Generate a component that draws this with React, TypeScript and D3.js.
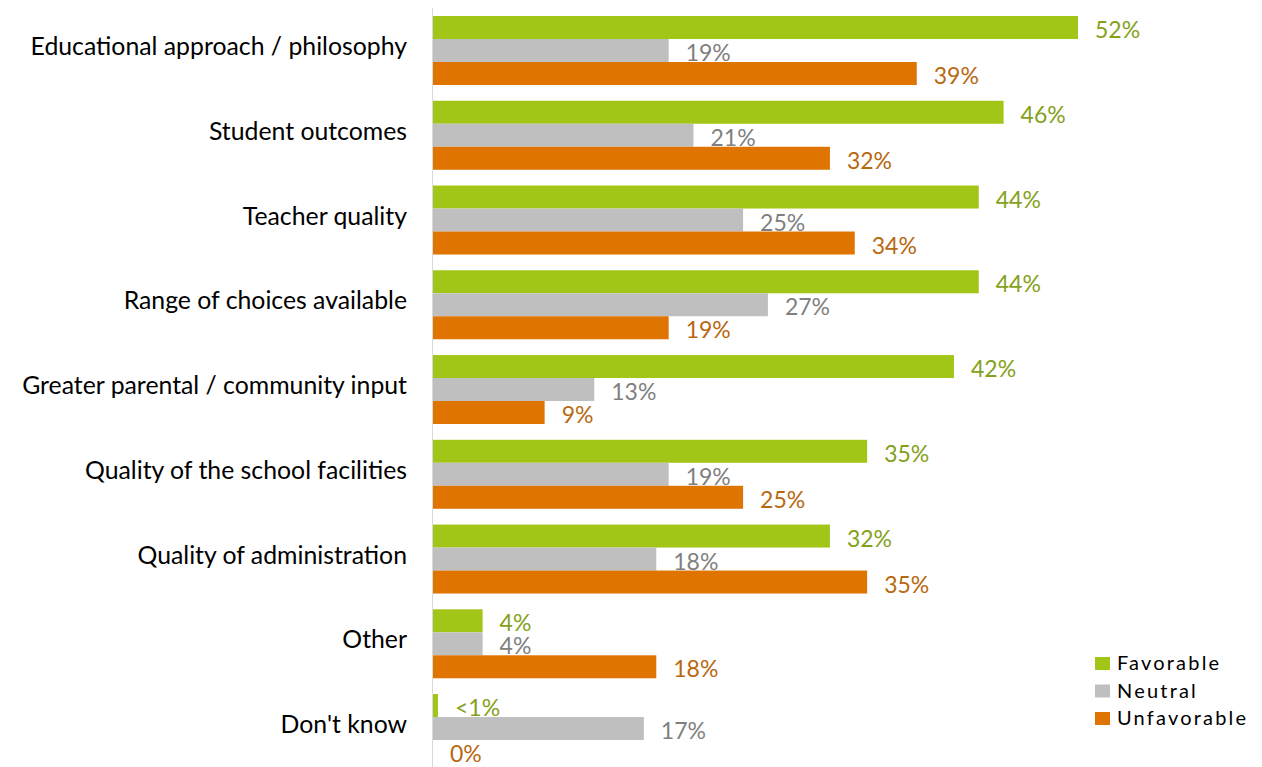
import React from "react";
import * as d3 from "d3";

const categories = [
  "Educational approach / philosophy",
  "Student outcomes",
  "Teacher quality",
  "Range of choices available",
  "Greater parental / community input",
  "Quality of the school facilities",
  "Quality of administration",
  "Other",
  "Don't know",
];
const seriesNames = ["Favorable", "Neutral", "Unfavorable"];
const favorable = [52, 46, 44, 44, 42, 35, 32, 4, 0.4];
const neutral = [19, 21, 25, 27, 13, 19, 18, 4, 17];
const unfavorable = [39, 32, 34, 19, 9, 25, 35, 18, 0];
const favorableLabels = ["52%", "46%", "44%", "44%", "42%", "35%", "32%", "4%", "<1%"];
const neutralLabels = ["19%", "21%", "25%", "27%", "13%", "19%", "18%", "4%", "17%"];
const unfavorableLabels = ["39%", "32%", "34%", "19%", "9%", "25%", "35%", "18%", "0%"];

const barColors = ["#a2c617", "#bfbfbf", "#e07400"];
const textColors = ["#84a11a", "#808080", "#b8680f"];

const W = 1262;
const H = 767;
const FONT = "Lato, 'Open Sans', sans-serif";

export default function App() {
  const x = d3.scaleLinear().domain([0, 52]).range([433, 1078]);
  const y = d3
    .scaleBand<string>()
    .domain(categories)
    .range([0.25, 778.8])
    .paddingInner(0.186)
    .paddingOuter(0.186);
  const sub = d3.scaleBand<string>().domain(seriesNames).range([0, y.bandwidth()]);
  const values = [favorable, neutral, unfavorable];
  const labels = [favorableLabels, neutralLabels, unfavorableLabels];

  return (
    <svg
      width={W}
      height={H}
      style={{ position: "absolute", left: 0, top: 0, background: "#fff" }}
      fontFamily={FONT}
    >
      {categories.map((c, i) => {
        const y0 = y(c)!;
        return (
          <g key={c}>
            <text
              x={407}
              y={y0 + y.bandwidth() / 2 - 5}
              textAnchor="end"
              dominantBaseline="central"
              fontSize={24.8}
              fill="#000"
            >
              {c}
            </text>
            {seriesNames.map((s, j) => {
              const v = values[j][i];
              const by = y0 + sub(s)!;
              const bw = x(v) - x(0);
              return (
                <g key={s}>
                  {v > 0 && (
                    <rect x={x(0)} y={by} width={bw} height={sub.bandwidth()} fill={barColors[j]} />
                  )}
                  <text
                    x={x(v) + 17}
                    y={by + sub.bandwidth() / 2 + 1.5}
                    dominantBaseline="central"
                    fontSize={23}
                    fill={textColors[j]}
                  >
                    {labels[j][i]}
                  </text>
                </g>
              );
            })}
          </g>
        );
      })}
      <line x1={432.5} x2={432.5} y1={8} y2={H} stroke="#d9d9d9" strokeWidth={1} />
      {seriesNames.map((s, j) => (
        <g key={s} transform={`translate(1095, ${663 + j * 27.5})`}>
          <rect x={0} y={-6} width={15} height={13} fill={barColors[j]} />
          <text
            x={22}
            y={-1}
            dominantBaseline="central"
            fontSize={20}
            letterSpacing={2.2}
            fill="#000"
          >
            {s}
          </text>
        </g>
      ))}
    </svg>
  );
}
